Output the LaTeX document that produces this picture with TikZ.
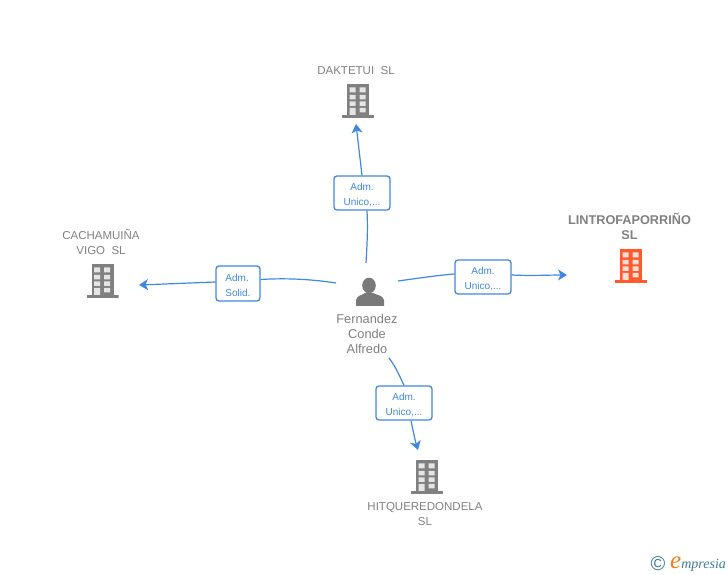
\documentclass[tikz,border=0pt]{standalone}
\usepackage{fontspec}
\setmainfont{Liberation Sans}
\newfontfamily\logofont{Liberation Serif}
\usepackage{xcolor}
\usetikzlibrary{arrows.meta}
\definecolor{linkblue}{HTML}{3F87E0}
\definecolor{namegray}{HTML}{808080}
\definecolor{iconred}{HTML}{FF5A2B}
\definecolor{logoteal}{HTML}{3B7C96}
\definecolor{logoorange}{HTML}{F07F1A}
\newcommand{\relstrut}{\rule{0pt}{11pt}}

\begin{document}
\begin{tikzpicture}[x=1pt, y=1pt, >={Stealth[length=9pt,width=11pt,inset=2.5pt]},
  link/.style={->, linkblue, line width=1.2pt},
  plain link/.style={-, linkblue, line width=1.2pt},
  relbox/.style={draw=linkblue, line width=1.3pt, rounded corners=3pt, fill=white, text=linkblue, inner sep=0pt, minimum height=34pt, font=\fontsize{10}{15}\selectfont},
  nametext/.style={text=namegray, align=center, inner sep=0pt, font=\fontsize{11.5}{15}\selectfont},
  bldg/.style={minimum width=32pt, minimum height=34pt, inner sep=0pt, path picture={
    \begin{scope}[shift={(path picture bounding box.center)}]
    \fill[#1] (-11,-14) rectangle (11,17);
    \fill[#1] (-16,-17) rectangle (16,-14);
    \fill[white!80!#1] (-8.5,13.5) rectangle (-2.5,8.5) (1.5,13.5) rectangle (7.5,8.5)
      (-8.5,6) rectangle (-2.5,1.5) (1.5,6) rectangle (7.5,1.5)
      (-8.5,-0.5) rectangle (-2.5,-5) (1.5,-0.5) rectangle (7.5,-5)
      (-8.5,-7) rectangle (-2.5,-14) (1.5,-7) rectangle (7.5,-11.5);
    \end{scope}}},
  personicon/.style={minimum width=28pt, minimum height=28pt, inner sep=0pt, path picture={
    \begin{scope}[shift={(path picture bounding box.center)}]
    \fill[gray!95!black] (-1,6.5) ellipse (6.8 and 7.8);
    \fill[gray!95!black] (-14,-14) -- (-14,-8) .. controls (-13,-3) and (-7,-3) .. (-5,-1) -- (3,-1) .. controls (6,-3) and (13,-3) .. (14,-8) -- (14,-14) -- cycle;
    \end{scope}}}]
\useasboundingbox (0,0) rectangle (728,575);

% companies
\node[bldg=namegray] at (358,474) (daktetui) {};
\node[nametext] at (356,504) (daktetuiname) {DAKTETUI\ \ SL};
\node[bldg=namegray] at (102.5,294) (cachamuina) {};
\node[nametext] at (101,332.5) (cachamuinaname) {CACHAMUIÑA\\VIGO\ \ SL};
\node[bldg=iconred] at (631,309) (lintro) {};
\node[nametext, font=\fontsize{12.7}{15}\selectfont\bfseries] at (629.5,348.5) (lintroname) {LINTROFAPORRIÑO\\SL};
\node[bldg=namegray] at (427,98) (hitque) {};
\node[nametext] at (425,60.5) (hitquename) {HITQUEREDONDELA\\SL};

% person
\node[personicon] at (370,283) (fernandez) {};
\node[nametext, font=\fontsize{12.8}{15}\selectfont] at (367,241) (fernandezname) {Fernandez\\Conde\\Alfredo};

% relation boxes
\node[relbox, minimum width=56pt, align=center] at (362,382) (admup) {\relstrut Adm.\\Unico,...};
\node[relbox, minimum width=44pt, minimum height=35pt, align=left] at (238,291.5) (admleft) {\relstrut Adm.\\Solid.};
\node[relbox, minimum width=56pt, align=center] at (483,298) (admright) {\relstrut Adm.\\Unico,...};
\node[relbox, minimum width=56pt, align=center] at (404,172) (admdown) {\relstrut Adm.\\Unico,...};

% free ends
\coordinate (upstart) at (366,312);
\coordinate (upend) at (356,451);
\coordinate (leftstart) at (336,292);
\coordinate (leftend) at (139,290);
\coordinate (rightstart) at (398,294);
\coordinate (rightend) at (567,300);
\coordinate (downstart) at (389,217);
\coordinate (downend) at (418,125);

% connectors
\draw[plain link] (upstart) .. controls (367,330) and (368,345) .. ([xshift=5pt]admup.south);
\draw[link] (admup.north) -- (upend);
\draw[plain link] (leftstart) .. controls (310,296) and (285,297) .. ([yshift=4pt]admleft.east);
\draw[link] ([yshift=1.5pt]admleft.west) .. controls (190,292) and (165,291) .. (leftend);
\draw[plain link] (rightstart) .. controls (420,297) and (440,300) .. ([yshift=3pt]admright.west);
\draw[link] ([yshift=2pt]admright.east) .. controls (530,299) and (550,300) .. (rightend);
\draw[plain link] (downstart) .. controls (396,208) and (400,198) .. (admdown.north);
\draw[link] ([xshift=7pt]admdown.south) .. controls (413,145) and (415,135) .. (downend);

% logo
\node[text=logoteal, inner sep=0pt, font=\fontsize{20}{20}\selectfont] at (658,11) (logocopy) {©};
\node[anchor=west, text=logoteal, inner sep=0pt, font=\logofont\itshape\fontsize{14}{14}\selectfont] at (670,11) (logoname) {\textcolor{logoorange}{\fontsize{25}{25}\selectfont e}mpresia};
\end{tikzpicture}
\end{document}
